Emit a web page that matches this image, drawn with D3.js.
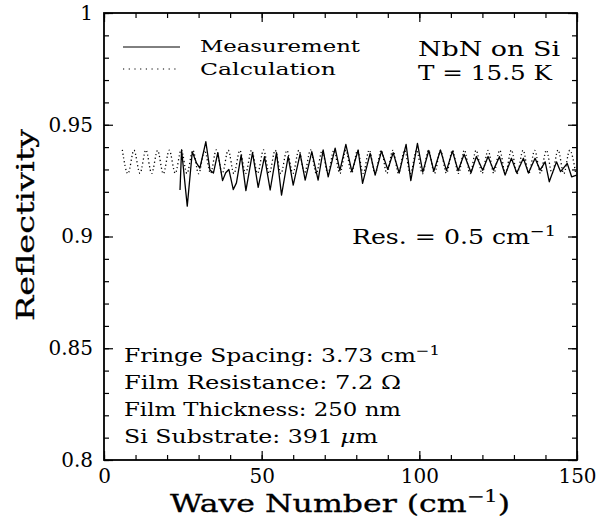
<!DOCTYPE html>
<html><head><meta charset="utf-8">
<script src="https://cdn.jsdelivr.net/npm/d3@7"></script>
<style>body{margin:0;background:#fff}svg{display:block}text{font-family:"DejaVu Serif",serif;fill:#000}</style>
</head><body>
<svg id="c" width="596" height="518"></svg>
<script>
// ---- data ----
const xTickValues = [0, 50, 100, 150];
const xTickLabels = ["0", "50", "100", "150"];
const yTickValues = [0.8, 0.85, 0.9, 0.95, 1];
const yTickLabels = ["0.8", "0.85", "0.9", "0.95", "1"];

const calcWave = [5.8,7.6,9.5,11.4,13.3,15.1,17.0,18.8,20.7,22.6,24.5,26.3,28.2,30.0,31.9,33.8,35.6,37.5,39.4,41.2,43.1,44.9,46.8,48.7,50.6,52.4,54.3,56.1,58.0,59.9,61.8,63.6,65.5,67.3,69.2,71.0,72.9,74.8,76.7,78.5,80.4,82.2,84.1,86.0,87.9,89.7,91.6,93.4,95.3,97.2,99.1,101.0,102.9,104.8,106.7,108.6,110.5,112.4,114.3,116.1,118.0,119.9,121.8,123.6,125.5,127.3,129.2,131.0,132.9,134.7,136.6,138.4,140.3,142.1,144.0,145.8,147.7,149.6];
const calcRefl = [0.9388,0.9281,0.9386,0.9283,0.9387,0.9282,0.9385,0.9281,0.9386,0.9283,0.9388,0.9282,0.9386,0.9281,0.9385,0.9283,0.9387,0.9282,0.9386,0.9281,0.9385,0.9282,0.9386,0.9283,0.9387,0.9282,0.9386,0.9281,0.9385,0.9282,0.9386,0.9283,0.9387,0.9282,0.9385,0.9281,0.9386,0.9282,0.9386,0.9283,0.9385,0.9282,0.9387,0.9281,0.9386,0.9282,0.9385,0.9283,0.9386,0.9282,0.9387,0.9281,0.9386,0.9282,0.9385,0.9283,0.9386,0.9282,0.9387,0.9281,0.9386,0.9282,0.9385,0.9283,0.9386,0.9282,0.9387,0.9281,0.9386,0.9282,0.9385,0.9283,0.9386,0.9282,0.9387,0.9281,0.9386,0.9282];

const measWave = [24.1,24.6,26.4,28.0,29.4,30.4,32.3,33.6,34.7,36.1,37.6,38.6,39.6,41.0,42.0,43.5,45.0,47.1,48.9,50.9,52.7,54.7,56.3,58.4,60.0,62.2,63.8,65.9,67.9,69.5,71.1,73.3,74.8,76.7,78.6,80.6,82.0,84.4,86.0,88.0,90.0,91.7,93.6,95.8,97.3,99.4,101.1,103.0,104.6,106.7,108.6,110.5,112.3,114.2,116.4,118.1,120.1,121.8,123.5,125.4,127.2,129.2,130.9,133.0,134.6,136.7,138.3,139.9,141.2,143.5,144.8,146.9,148.3,149.9];
const measRefl = [0.9208,0.9387,0.9136,0.9379,0.9327,0.9306,0.9424,0.9297,0.9284,0.9375,0.9250,0.9285,0.9300,0.9210,0.9240,0.9365,0.9205,0.9375,0.9220,0.9357,0.9208,0.9375,0.9185,0.9358,0.9230,0.9370,0.9252,0.9380,0.9252,0.9387,0.9267,0.9395,0.9295,0.9412,0.9290,0.9387,0.9238,0.9372,0.9275,0.9382,0.9300,0.9375,0.9284,0.9412,0.9250,0.9417,0.9288,0.9385,0.9292,0.9387,0.9295,0.9382,0.9294,0.9368,0.9285,0.9358,0.9296,0.9358,0.9297,0.9357,0.9275,0.9350,0.9284,0.9350,0.9284,0.9350,0.9297,0.9334,0.9245,0.9334,0.9290,0.9327,0.9267,0.9275];

// ---- layout ----
const L = 104, R = 577, T = 13, B = 460;
const svg = d3.select("#c");
const x = d3.scaleLinear().domain([0, 150]).range([L, R]);
const y = d3.scaleLinear().domain([0.8, 1]).range([B, T]);
const xMinor = d3.range(0, 151, 10);
const yMinor = d3.range(80, 101, 1).map(d => d / 100);

function styleAxis(g){ g.select(".domain").remove(); g.selectAll("line").attr("stroke","#000").attr("stroke-width",1.2); }

// minor ticks, all sides
svg.append("g").attr("transform",`translate(0,${B})`).call(d3.axisBottom(x).tickValues(xMinor).tickSize(-5).tickFormat("")).call(styleAxis);
svg.append("g").attr("transform",`translate(0,${T})`).call(d3.axisTop(x).tickValues(xMinor).tickSize(-5).tickFormat("")).call(styleAxis);
svg.append("g").attr("transform",`translate(${L},0)`).call(d3.axisLeft(y).tickValues(yMinor).tickSize(-5).tickFormat("")).call(styleAxis);
svg.append("g").attr("transform",`translate(${R},0)`).call(d3.axisRight(y).tickValues(yMinor).tickSize(-5).tickFormat("")).call(styleAxis);

// major ticks with labels
const gx = svg.append("g").attr("transform",`translate(0,${B})`)
  .call(d3.axisBottom(x).tickValues(xTickValues).tickSize(-9).tickPadding(9).tickFormat((d,i)=>xTickLabels[i]))
  .call(styleAxis);
gx.selectAll("text").attr("font-family","DejaVu Serif").attr("font-size",20).attr("fill","#000");
const gy = svg.append("g").attr("transform",`translate(${L},0)`)
  .call(d3.axisLeft(y).tickValues(yTickValues).tickSize(-9).tickPadding(11).tickFormat((d,i)=>yTickLabels[i]))
  .call(styleAxis);
gy.selectAll("text").attr("font-family","DejaVu Serif").attr("font-size",20).attr("fill","#000");
svg.append("g").attr("transform",`translate(0,${T})`).call(d3.axisTop(x).tickValues(xTickValues).tickSize(-9).tickFormat("")).call(styleAxis);
svg.append("g").attr("transform",`translate(${R},0)`).call(d3.axisRight(y).tickValues(yTickValues).tickSize(-9).tickFormat("")).call(styleAxis);

// frame
svg.append("rect").attr("x",L).attr("y",T).attr("width",R-L).attr("height",B-T)
  .attr("fill","none").attr("stroke","#000").attr("stroke-width",1.8);

// series
const calcData = calcWave.map((w,i)=>[w, calcRefl[i]]);
const measData = measWave.map((w,i)=>[w, measRefl[i]]);
const lineC = d3.line().x(d=>x(d[0])).y(d=>y(d[1])).curve(d3.curveMonotoneX);
const lineM = d3.line().x(d=>x(d[0])).y(d=>y(d[1]));
svg.append("path").datum(calcData).attr("d",lineC).attr("fill","none").attr("stroke","#000")
  .attr("stroke-width",1.3).attr("stroke-dasharray","1.2,2.6");
svg.append("path").datum(measData).attr("d",lineM).attr("fill","none").attr("stroke","#000")
  .attr("stroke-width",1.3).attr("stroke-linejoin","round");

// legend
svg.append("line").attr("x1",123).attr("x2",180).attr("y1",47).attr("y2",47).attr("stroke","#000").attr("stroke-width",1);
svg.append("line").attr("x1",123).attr("x2",180).attr("y1",69).attr("y2",69).attr("stroke","#000").attr("stroke-width",1.2).attr("stroke-dasharray","1.2,4.5");
function txt(s, xx, yy, size, len){
  const t = svg.append("text").attr("x",xx).attr("y",yy).attr("font-size",size);
  if (len) t.attr("textLength",len).attr("lengthAdjust","spacingAndGlyphs");
  return t;
}
txt("",200,52,17,160).text("Measurement");
txt("",200,75,17,136).text("Calculation");
txt("",418,56,21,142).text("NbN on Si");
txt("",418,80,20,134).text("T = 15.5 K");

function supText(xx, yy, size, len, base, sup){
  const t = txt("",xx,yy,size,len);
  t.append("tspan").text(base);
  t.append("tspan").attr("font-size",size*0.7).attr("dy",-size*0.4).text(sup);
  return t;
}
supText(352,244,20,204,"Res. = 0.5 cm","−1");
supText(124,362,18,316,"Fringe Spacing: 3.73 cm","−1");
txt("",124,389,18,277).text("Film Resistance: 7.2 Ω");
txt("",124,416,18,277).text("Film Thickness: 250 nm");
const ss = txt("",124,443,18,254);
ss.append("tspan").text("Si Substrate: 391 ");
ss.append("tspan").attr("font-style","italic").text("μ");
ss.append("tspan").text("m");

// axis titles
const xt = svg.append("text").attr("x",340).attr("y",512).attr("text-anchor","middle").attr("font-size",24)
  .attr("textLength",340).attr("lengthAdjust","spacingAndGlyphs").attr("stroke","#000").attr("stroke-width",0.3);
xt.append("tspan").text("Wave Number (cm");
xt.append("tspan").attr("font-size",16).attr("dy",-10).attr("stroke-width",0.2).text("−1");
xt.append("tspan").attr("dy",10).text(")");
svg.append("text").attr("transform","translate(34,225) rotate(-90)").attr("text-anchor","middle")
  .attr("font-size",25).attr("stroke","#000").attr("stroke-width",0.3).attr("textLength",192).attr("lengthAdjust","spacingAndGlyphs").text("Reflectivity");
</script>
</body></html>
